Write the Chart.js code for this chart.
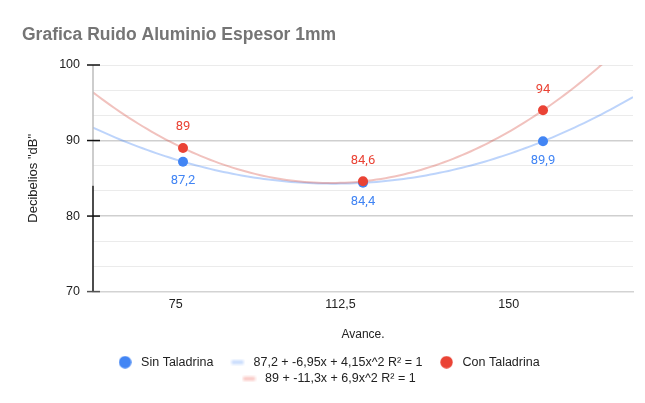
<!DOCTYPE html>
<html>
<head>
<meta charset="utf-8">
<script src="https://cdn.jsdelivr.net/npm/chart.js@4.4.1/dist/chart.umd.min.js"></script>
<style>
  html, body { margin: 0; padding: 0; background: #fff; }
  canvas { display: block; }
</style>
</head>
<body>
<canvas id="chart" width="645" height="403"></canvas>
<script>
// Data
const categories = ['75', '112,5', '150'];
const sinTaladrina = [87.2, 84.4, 89.9];
const conTaladrina = [89, 84.6, 94];
// Polynomial trendline coefficients (c0 + c1*x + c2*x^2, x = category index)
const sinTrendCoef = [87.2, -6.95, 4.15];
const conTrendCoef = [89, -11.3, 6.9];
const trendR2 = [1, 1];
const yTickLabels = [70, 80, 90, 100];

const BLUE = '#4285F4';
const RED = '#EA4335';

const fmt = v => String(v).replace('.', ',');
const trendLabel = (c, r2) => `${fmt(c[0])} + ${fmt(c[1])}x + ${fmt(c[2])}x^2 R² = ${fmt(r2)}`;

// Sample a polynomial trendline across the visible x range
function trendPoints(coef, from, to, step) {
  const pts = [];
  for (let x = from; x <= to + 1e-9; x += step) {
    pts.push({ x, y: coef[0] + coef[1] * x + coef[2] * x * x });
  }
  return pts;
}

const toXY = arr => arr.map((v, i) => ({ x: i, y: v }));

// Legend swatches
function dotSwatch(color) {
  const c = document.createElement('canvas');
  c.width = 13; c.height = 13;
  const g = c.getContext('2d');
  g.fillStyle = color;
  g.beginPath(); g.arc(6.5, 6.5, 6.2, 0, Math.PI * 2); g.fill();
  return c;
}
function barSwatch(color) {
  const c = document.createElement('canvas');
  c.width = 15; c.height = 7;
  const g = c.getContext('2d');
  g.filter = 'blur(0.8px)';
  g.fillStyle = color;
  g.fillRect(1.5, 1.5, 12, 4);
  return c;
}

const swatches = [
  dotSwatch(BLUE),
  barSwatch('rgba(66,133,244,0.3)'),
  dotSwatch(RED),
  barSwatch('rgba(234,67,53,0.3)')
];

// Vertical axis line and crossing tick marks
const axisMarks = {
  id: 'axisMarks',
  afterDatasetsDraw(chart) {
    const { ctx, chartArea, scales: { y } } = chart;
    const x = chartArea.left;
    const split = y.getPixelForValue(84);
    ctx.save();
    ctx.lineWidth = 1.5;
    ctx.strokeStyle = '#bdbdbd';
    ctx.beginPath(); ctx.moveTo(x, chartArea.top); ctx.lineTo(x, split); ctx.stroke();
    ctx.strokeStyle = '#111';
    ctx.beginPath(); ctx.moveTo(x, split); ctx.lineTo(x, chartArea.bottom); ctx.stroke();
    yTickLabels.forEach(v => {
      const py = y.getPixelForValue(v);
      ctx.strokeStyle = v === yTickLabels[0] ? '#555' : '#111';
      ctx.beginPath(); ctx.moveTo(x - 6, py); ctx.lineTo(x + 7, py); ctx.stroke();
    });
    ctx.restore();
  }
};

// Value labels beside the points
const valueLabels = {
  id: 'valueLabels',
  afterDatasetsDraw(chart) {
    const { ctx } = chart;
    ctx.save();
    ctx.font = '13px Roboto, "Liberation Sans", sans-serif';
    ctx.textAlign = 'center';
    ctx.textBaseline = 'middle';
    chart.data.datasets.forEach((ds, i) => {
      if (!ds.valueLabelOffset) return;
      const meta = chart.getDatasetMeta(i);
      ctx.fillStyle = ds.backgroundColor;
      meta.data.forEach((el, j) => {
        ctx.fillText(fmt(ds.data[j].y), el.x, el.y + ds.valueLabelOffset);
      });
    });
    ctx.restore();
  }
};

Chart.defaults.font.family = '"Liberation Sans", Arial, sans-serif';
Chart.defaults.color = '#222';

new Chart(document.getElementById('chart'), {
  type: 'scatter',
  data: {
    datasets: [
      {
        label: 'Sin Taladrina',
        data: toXY(sinTaladrina),
        backgroundColor: BLUE,
        borderColor: BLUE,
        pointRadius: 5,
        pointBorderWidth: 0,
        valueLabelOffset: 19,
        order: 1
      },
      {
        label: trendLabel(sinTrendCoef, trendR2[0]),
        data: trendPoints(sinTrendCoef, -0.5, 2.5, 0.025),
        showLine: true,
        borderColor: 'rgba(66,133,244,0.35)',
        backgroundColor: 'rgba(66,133,244,0.35)',
        borderWidth: 2,
        pointRadius: 0,
        order: 3
      },
      {
        label: 'Con Taladrina',
        data: toXY(conTaladrina),
        backgroundColor: RED,
        borderColor: RED,
        pointRadius: 5,
        pointBorderWidth: 0,
        valueLabelOffset: -21,
        order: 0
      },
      {
        label: trendLabel(conTrendCoef, trendR2[1]),
        data: trendPoints(conTrendCoef, -0.5, 2.5, 0.025),
        showLine: true,
        borderColor: 'rgba(214,80,70,0.35)',
        backgroundColor: 'rgba(214,80,70,0.35)',
        borderWidth: 2,
        pointRadius: 0,
        order: 2
      }
    ]
  },
  options: {
    responsive: false,
    animation: false,
    layout: { padding: { left: 22, right: 12, top: 0, bottom: 8 } },
    plugins: {
      tooltip: { enabled: false },
      title: {
        display: true,
        text: 'Grafica Ruido Aluminio Espesor 1mm',
        align: 'start',
        color: '#757575',
        font: { family: '"Liberation Sans", Arial, sans-serif', size: 17.5, weight: 'bold' },
        padding: { top: 25, bottom: 19 }
      },
      legend: {
        position: 'bottom',
        labels: {
          usePointStyle: true,
          pointStyleWidth: 19.5,
          boxHeight: 12,
          padding: 4,
          font: { size: 12.5 },
          generateLabels: chart => chart.data.datasets.map((ds, i) => ({
            text: ds.label + (i < 2 ? '   ' : ''),
            pointStyle: swatches[i],
            datasetIndex: i,
            hidden: false,
            lineWidth: 0,
            fillStyle: ds.backgroundColor,
            strokeStyle: 'rgba(0,0,0,0)',
            fontColor: '#222'
          }))
        }
      }
    },
    scales: {
      x: {
        type: 'linear',
        min: -0.5,
        max: 2.5,
        afterBuildTicks: s => { s.ticks = [-0.04, 0.875, 1.81].map(value => ({ value })); },
        grid: { display: false, drawTicks: false },
        border: { display: true, color: '#d3d3d3', width: 1.5 },
        ticks: {
          padding: 5,
          autoSkip: false,
          maxRotation: 0,
          font: { size: 12.5 },
          callback: (v, i) => categories[i]
        },
        title: {
          display: true,
          text: 'Avance.',
          font: { size: 12 },
          padding: { top: 11, bottom: 10 }
        }
      },
      y: {
        min: yTickLabels[0],
        max: yTickLabels[yTickLabels.length - 1],
        afterBuildTicks: s => {
          const t = [];
          for (let i = 0; i < yTickLabels.length - 1; i++) {
            const a = yTickLabels[i], b = yTickLabels[i + 1];
            for (let k = 0; k < 3; k++) t.push({ value: a + k * (b - a) / 3 });
          }
          t.push({ value: yTickLabels[yTickLabels.length - 1] });
          s.ticks = t;
        },
        afterFit: s => { s.width = 71; },
        grid: {
          drawTicks: false,
          color: c => (c.tick && (c.tick.value === 80 || c.tick.value === 90)) ? '#cfcfcf' : '#ebebeb',
          lineWidth: c => (c.tick && (c.tick.value === 80 || c.tick.value === 90)) ? 1.5 : 1
        },
        border: { display: false },
        ticks: {
          padding: 13,
          autoSkip: false,
          font: { size: 12.5 },
          callback: v => yTickLabels.includes(v) ? String(v) : ''
        },
        title: {
          display: true,
          text: 'Decibelios "dB"',
          font: { size: 13 },
          padding: { top: 4, bottom: 0 }
        }
      }
    }
  },
  plugins: [axisMarks, valueLabels]
});
</script>
</body>
</html>
